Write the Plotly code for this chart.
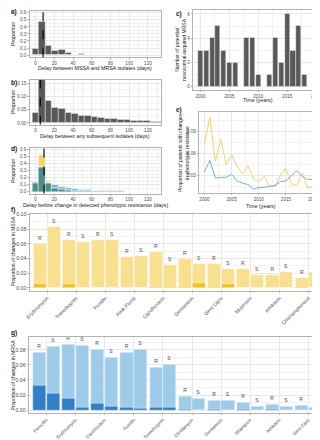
import numpy as np
import plotly.graph_objects as go

FONT = "Liberation Sans, Arial, sans-serif"
W, H = 320, 440

# ---------------- data ----------------
bin_days = list(range(0, 140, 7))
a_prop = [0.09, 0.475, 0.13, 0.06, 0.07, 0.033, 0.01, 0.018, 0.008, 0, 0, 0, 0, 0.01, 0.01, 0, 0, 0, 0, 0]
b_prop = [0.040, 0.19, 0.085, 0.058, 0.052, 0.040, 0.034, 0.028, 0.026, 0.023, 0.020, 0.017,
          0.015, 0.013, 0.011, 0.009, 0.008, 0.007, 0.006, 0.005]
d_mssa = [0.12, 0.52, 0.16, 0.06, 0.04, 0.02, 0.012, 0.008, 0.005, 0.004, 0.003, 0, 0.003, 0, 0, 0, 0, 0, 0, 0]
d_mrsa = [0.135, 0.35, 0.12, 0.09, 0.066, 0.055, 0.042, 0.028, 0.02, 0.014, 0.01, 0.008, 0.007, 0.004,
          0, 0, 0, 0, 0, 0]
a_median, b_median, d_median = 8, 5, 9

years_c = list(range(2000, 2021))
c_counts = [3, 3, 4, 5, 3, 2, 2, 0, 4, 4, 1, 0, 1, 4, 2, 6, 3, 5, 1, 0, 1]

years_e = list(range(2000, 2022))
e_mssa = [0.072, 0.109, 0.049, 0.079, 0.044, 0.058, 0.041, 0.032, 0.043, 0.025, 0.021, 0.028,
          0.015, 0.014, 0.030, 0.039, 0.018, 0.016, 0.032, 0.012, 0.014, 0.020]
e_mrsa = [0.034, 0.050, 0.026, 0.026, 0.027, 0.031, 0.022, 0.019, 0.017, 0.011, 0.013, 0.013,
          0.014, 0.016, 0.021, 0.022, 0.029, 0.036, 0.028, 0.024, 0.024, 0.019]

f_drugs = ["Erythromycin", "Trimethoprim", "Fusidin", "Amik.Fluclo", "Ciprofloxacin", "Gentamicin",
           "Gent.Cipro", "Mupirocin", "Amikacin", "Chloramphenicol"]
f_R_total = [0.060, 0.065, 0.065, 0.042, 0.049, 0.0395, 0.032, 0.026, 0.018, 0.013]
f_S_total = [0.0825, 0.063, 0.065, 0.044, 0.0305, 0.032, 0.0255, 0.018, 0.021, 0.021]
f_R_dark = [0.0045, 0.0045, 0, 0, 0.0012, 0.0012, 0.001, 0, 0, 0.001]
f_S_dark = [0, 0, 0, 0, 0.0012, 0.007, 0.0045, 0, 0, 0]

g_drugs = ["Penicillin", "Erythromycin", "Ciprofloxacin", "Fusidin", "Trimethoprim", "Clindamycin",
           "Gentamicin", "Rifampicin", "Amikacin", "Gent.Cipro"]
g_R_total = [0.076, 0.0877, 0.080, 0.077, 0.0566, 0.018, 0.0128, 0.0098, 0.0077, 0.0055]
g_S_total = [0.085, 0.086, 0.070, 0.081, 0.061, 0.016, 0.0128, 0.0051, 0.0051, 0.0034]
g_R_dark = [0.033, 0.0153, 0.0094, 0.004, 0.003, 0.0013, 0.0005, 0.0005, 0.0005, 0]
g_S_dark = [0.0226, 0.003, 0.0047, 0.0017, 0.004, 0, 0, 0, 0, 0]

# ---------------- styles ----------------
GRAY = "#595959"
YEL, BLU, TEAL = "#f5d36a", "#72b2e3", "#4b8e86"
F_LIGHT, F_DARK = "#f8e08e", "#f1c21f"
G_LIGHT, G_DARK = "#9ecbea", "#2f80c6"
OUT = dict(color="rgba(255,255,255,0.8)", width=0.5)

fig = go.Figure()

def hist(y, xa, ya, color, base=None):
    fig.add_trace(go.Bar(x=bin_days, y=y, base=base, width=7, marker=dict(color=color, line=OUT),
                         xaxis=xa, yaxis=ya, showlegend=False))

hist(a_prop, "x", "y", GRAY)
hist(b_prop, "x2", "y2", GRAY)
dm, db = np.array(d_mssa), np.array(d_mrsa)
overlap = np.minimum(dm, db)
hist(overlap, "x3", "y3", TEAL)
hist(np.clip(dm - db, 0, None), "x3", "y3", YEL, base=overlap)
hist(np.clip(db - dm, 0, None), "x3", "y3", BLU, base=overlap)

fig.add_trace(go.Bar(x=years_c, y=c_counts, width=0.88, marker=dict(color=GRAY, line=OUT),
                     xaxis="x4", yaxis="y4", showlegend=False))

fig.add_trace(go.Scatter(x=years_e, y=e_mssa, mode="lines", line=dict(color=YEL, width=1),
                         xaxis="x5", yaxis="y5", showlegend=False))
fig.add_trace(go.Scatter(x=years_e, y=e_mrsa, mode="lines", line=dict(color=BLU, width=1),
                         xaxis="x5", yaxis="y5", showlegend=False))

def paired(drugs, rt, st, rd, sd, light, dark, xa, ya):
    idx = np.arange(len(drugs))
    for off, tot, drk, lab in [(-0.235, rt, rd, "R"), (0.235, st, sd, "S")]:
        fig.add_trace(go.Bar(x=idx + off, y=tot, width=0.45, marker=dict(color=light, line=OUT),
                             text=[lab] * len(drugs), textposition="outside", cliponaxis=False,
                             textfont=dict(size=5, color="#4d4d4d", family=FONT),
                             xaxis=xa, yaxis=ya, showlegend=False))
        fig.add_trace(go.Bar(x=idx + off, y=drk, width=0.45, marker=dict(color=dark, line=OUT),
                             xaxis=xa, yaxis=ya, showlegend=False))

paired(f_drugs, f_R_total, f_S_total, f_R_dark, f_S_dark, F_LIGHT, F_DARK, "x6", "y6")
paired(g_drugs, g_R_total, g_S_total, g_R_dark, g_S_dark, G_LIGHT, G_DARK, "x7", "y7")

# ---------------- axes ----------------
def xdom(l, r):
    return [l / W, r / W]

def ydom(t, b):
    return [1 - b / H, 1 - t / H]

def ax(dom, rng, anchor, dtick=None, minor=None, tickfont=4.6, **kw):
    d = dict(domain=dom, range=rng, anchor=anchor, showline=True, linecolor="#b3b3b3", linewidth=0.6,
             mirror=True, ticks="outside", ticklen=1.5, tickwidth=0.5, tickcolor="#b3b3b3",
             showgrid=True, gridcolor="#e8e8e8", gridwidth=0.5, zeroline=False, automargin=False,
             tickfont=dict(size=tickfont, color="#4d4d4d", family=FONT))
    if dtick is not None:
        d["dtick"] = dtick
        d["tick0"] = 0
    if minor is not None:
        d["minor"] = dict(dtick=minor, tick0=0, showgrid=True, gridcolor="#f2f2f2", gridwidth=0.3, ticks="")
    d.update(kw)
    return d

P = {
    "a": ((21.5, 153), (2.7, 49.3)),
    "b": ((21.5, 153), (71.7, 116.5)),
    "d": ((21.5, 153), (140, 185.5)),
    "c": ((185, 315), (1.7, 81.7)),
    "e": ((191, 316), (104.3, 185)),
    "f": ((21.7, 318), (206, 283)),
    "g": ((21, 318), (328.5, 405)),
}

xr = [-6.5, 134]
layout = dict(
    width=W, height=H, margin=dict(l=0, r=0, t=0, b=0), autosize=False,
    paper_bgcolor="white", plot_bgcolor="white", barmode="overlay", bargap=0,
    font=dict(family=FONT, color="#1a1a1a"),
    xaxis=ax(xdom(*P["a"][0]), xr, "y", 20, 10),
    yaxis=ax(ydom(*P["a"][1]), [-0.032, 0.63], "x", 0.1, 0.05, tickformat=".1f"),
    xaxis2=ax(xdom(*P["b"][0]), xr, "y2", 20, 10),
    yaxis2=ax(ydom(*P["b"][1]), [-0.006, 0.163], "x2", 0.05, 0.025, tickformat=".2f"),
    xaxis3=ax(xdom(*P["d"][0]), xr, "y3", 20, 10),
    yaxis3=ax(ydom(*P["d"][1]), [-0.025, 0.625], "x3", 0.1, 0.05, tickformat=".1f"),
    xaxis4=ax(xdom(*P["c"][0]), [1998.7, 2021.2], "y4", 5, 2.5),
    yaxis4=ax(ydom(*P["c"][1]), [-0.25, 6.35], "x4", 2, 1),
    xaxis5=ax(xdom(*P["e"][0]), [1999, 2022], "y5", 5, 2.5),
    yaxis5=ax(ydom(*P["e"][1]), [0.0055, 0.1155], "x5", 0.03, 0.015, tickformat=".2f"),
    xaxis6=ax(xdom(*P["f"][0]), [-0.6, 9.6], "y6", tickfont=5, tickmode="array",
              tickvals=list(range(len(f_drugs))), ticktext=f_drugs, tickangle=-45),
    yaxis6=ax(ydom(*P["f"][1]), [-0.0045, 0.1007], "x6", 0.02, 0.01, tickfont=5.2, tickformat=".2f"),
    xaxis7=ax(xdom(*P["g"][0]), [-0.6, 9.6], "y7", tickfont=4.6, tickmode="array",
              tickvals=list(range(len(g_drugs))), ticktext=g_drugs, tickangle=-45),
    yaxis7=ax(ydom(*P["g"][1]), [-0.0038, 0.0977], "x7", 0.02, 0.01, tickfont=5.2, tickformat=".2f"),
)

shapes = []
for xa, ya, med in [("x", "y", a_median), ("x2", "y2", b_median), ("x3", "y3", d_median)]:
    shapes.append(dict(type="line", xref=xa, yref=ya + " domain", x0=med, x1=med, y0=0, y1=1,
                       line=dict(color="black", width=1.1, dash="dash")))
layout["shapes"] = shapes

def note(text, x, y, size=5.3, angle=0, bold=False, xanchor="center", color="#1a1a1a"):
    return dict(text=("<b>%s</b>" % text) if bold else text, x=x / W, y=1 - y / H, xref="paper",
                yref="paper", showarrow=False, textangle=angle, xanchor=xanchor, yanchor="middle",
                font=dict(size=size, family=FONT, color=color))

anns = [
    note("a)", 0.5, 4, 6.5, bold=True, xanchor="left"),
    note("b)", 0.5, 75, 6.5, bold=True, xanchor="left"),
    note("d)", 0.5, 141, 6.5, bold=True, xanchor="left"),
    note("c)", 166, 6, 6.5, bold=True, xanchor="left"),
    note("e)", 166, 102, 6.5, bold=True, xanchor="left"),
    note("f)", 0.5, 202, 6.5, bold=True, xanchor="left"),
    note("g)", 0.5, 325, 6.5, bold=True, xanchor="left"),
    note("Proportion", 5, 26, angle=-90),
    note("Proportion", 5, 94, angle=-90),
    note("Proportion", 5, 163, angle=-90),
    note("Delay between MSSA and MRSA isolates (days)", 87, 60.5),
    note("Delay between any subsequent isolates (days)", 87, 128),
    note("Delay before change in detected phenotypic resistance (days)", 87, 197),
    note("Number of potential<br>nosocomial-acquired MRSA", 172, 42, size=5, angle=-90),
    note("Time (years)", 250, 92),
    note("Proportion of patients with changes<br>in phenotypic resistance", 175, 145, size=5, angle=-90),
    note("Time (years)", 253, 197.5),
    note("Proportion of changes in MSSA", 4.5, 244, size=5, angle=-90),
    note("Proportion of changes in MRSA", 4.5, 367, size=5, angle=-90),
]
layout["annotations"] = anns

fig.update_layout(**layout)
fig.write_html("out.html")
